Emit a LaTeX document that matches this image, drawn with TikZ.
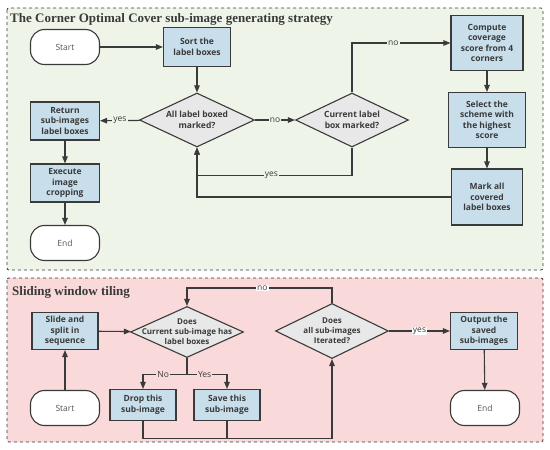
\documentclass[tikz,border=0pt]{standalone}
\usepackage{fontspec}
\setmainfont{Liberation Serif}
\newfontfamily\nodefont{Open Sans}
\usetikzlibrary{shapes.geometric,arrows.meta,calc}
\definecolor{greenbg}{HTML}{EEF5E8}
\definecolor{pinkbg}{HTML}{F9D9D9}
\definecolor{boxblue}{HTML}{C8DFEB}
\definecolor{dgray}{HTML}{E8E8E8}
\definecolor{linec}{HTML}{3A3A3A}
\definecolor{termtext}{HTML}{555555}
\tikzset{
  proc/.style={rectangle, draw=linec, line width=1.1pt, fill=boxblue, text=linec,
    font=\nodefont\bfseries\fontsize{8.5}{10.5}\selectfont, align=center, inner sep=1pt},
  term/.style={rectangle, rounded corners=14pt, draw=linec, line width=1.1pt, fill=white,
    text=termtext, font=\nodefont\fontsize{8.5}{10}\selectfont, minimum width=69pt, minimum height=35pt},
  dec/.style={diamond, draw=linec, line width=1.1pt, fill=dgray, inner sep=0pt},
  dectext/.style={text=linec, inner sep=0pt,
    font=\nodefont\bfseries\fontsize{8.5}{10.5}\selectfont, align=center},
  panel/.style={draw=linec, dashed, line width=0.8pt, rounded corners=2pt},
  arr/.style={draw=linec, line width=1.1pt, -{Triangle[length=7pt,width=5.5pt]}},
  ln/.style={draw=linec, line width=1.1pt},
  lblg/.style={fill=greenbg, inner sep=1pt, text=linec, font=\nodefont\fontsize{8.5}{10}\selectfont},
  lblp/.style={fill=pinkbg, inner sep=1pt, text=linec, font=\nodefont\fontsize{8.5}{10}\selectfont},
  lblw/.style={fill=white, inner sep=1pt, text=linec, font=\nodefont\fontsize{8.5}{10}\selectfont},
  ttl/.style={anchor=base west, font=\bfseries\fontsize{13}{15}\selectfont, text=linec, inner sep=0pt}
}
\begin{document}
\begin{tikzpicture}[x=1pt,y=-1pt]
\useasboundingbox (0,0) rectangle (550,450);
\fill[white] (0,0) rectangle (550,450);
% panels
\path[panel, fill=greenbg] (7,8) rectangle (543,270);
\path[panel, fill=pinkbg] (7,278) rectangle (543,442);
\node[ttl] (t1) at (10,22) {The Corner Optimal Cover sub-image generating strategy};
\node[ttl] (t2) at (12,295) {Sliding window tiling};
% top nodes
\node[term] (start1) at (65,47) {Start};
\node[proc, minimum width=67pt, minimum height=39pt] (sort) at (197,47) {Sort the\\label boxes};
\node[dec, minimum width=115pt, minimum height=54pt] (d1) at (197,120) {};
\node[dectext] (d1t) at (d1.center) {All label boxed\\marked?};
\node[proc, minimum width=69pt, minimum height=38pt] (ret) at (65,121) {Return\\sub-images\\label boxes};
\node[proc, minimum width=69pt, minimum height=38pt] (exec) at (65,183) {Execute\\image\\cropping};
\node[term] (end1) at (65,243) {End};
\node[dec, minimum width=113pt, minimum height=54pt] (d2) at (352,120) {};
\node[dectext] (d2t) at (d2.center) {Current label\\box marked?};
\node[proc, minimum width=72pt, minimum height=55pt] (comp) at (487,43) {Compute\\coverage\\score from 4\\corners};
\node[proc, minimum width=77pt, minimum height=55pt] (sel) at (487,120) {Select the\\scheme with\\the highest\\score};
\node[proc, minimum width=71pt, minimum height=56pt] (mark) at (487,197) {Mark all\\covered\\label boxes};
% top edges
\draw[arr] (start1) -- (sort);
\draw[arr] (sort) -- (d1);
\draw[arr] (d1) -- node[lblg]{yes} (ret);
\draw[arr] (d1) -- node[lblg]{no} (d2);
\draw[arr] (d2.north) |- node[lblg, pos=0.71]{no} (comp);
\draw[arr] (comp) -- (sel);
\draw[arr] (sel) -- (mark);
\coordinate (j1) at ($(d2.south)+(0,28)$);
\draw[arr] (d2.south) -- (j1) -| node[lblg, pos=0.26]{yes} (d1.south);
\draw[arr] (mark.west) -| (d1.south);
\draw[arr] (ret) -- (exec);
\draw[arr] (exec) -- (end1);
% bottom nodes
\node[proc, minimum width=66pt, minimum height=37pt] (slide) at (65,331) {Slide and\\split in\\sequence};
\node[dec, minimum width=113pt, minimum height=51pt] (d3) at (187,332) {};
\node[dectext, font=\nodefont\bfseries\fontsize{8}{10}\selectfont] (d3t) at (d3.center) {Does\\Current sub-image has\\label boxes};
\node[term] (start2) at (65,408) {Start};
\node[proc, minimum width=66pt, minimum height=31pt] (drop) at (143,405) {Drop this\\sub-image};
\node[proc, minimum width=66pt, minimum height=31pt] (save) at (227,405) {Save this\\sub-image};
\node[dec, minimum width=113pt, minimum height=55pt] (d4) at (332,331) {};
\node[dectext, font=\nodefont\bfseries\fontsize{8}{10}\selectfont] (d4t) at (d4.center) {Does\\all sub-images\\Iterated?};
\node[proc, minimum width=67pt, minimum height=37pt] (out) at (484,331) {Output the\\saved\\sub-images};
\node[term] (end2) at (485,408) {End};
% bottom edges
\draw[arr] (start2) -- (slide);
\draw[arr] (slide) -- (d3);
\coordinate (sp) at ($(d3.south)+(0,16)$);
\draw[ln] (d3.south) -- (sp);
\draw[arr] (sp) -| node[lblp, pos=0.27]{No} (drop);
\draw[arr] (sp) -| node[lblp, pos=0.22]{Yes} (save);
\coordinate (jd) at ($(drop.south)+(0,17)$);
\draw[ln] (save.south) -- ($(save.south)+(0,17)$);
\draw[arr] (drop.south) -- (jd) -| (d4.south);
\coordinate (j4) at ($(d4.north)+(0,-15)$);
\draw[arr] (d4.north) -- (j4) -| node[lblw, pos=0.24]{no} (d3.north);
\draw[arr] (d4) -- node[lblw]{yes} (out);
\draw[arr] (out) -- (end2);
\end{tikzpicture}
\end{document}
